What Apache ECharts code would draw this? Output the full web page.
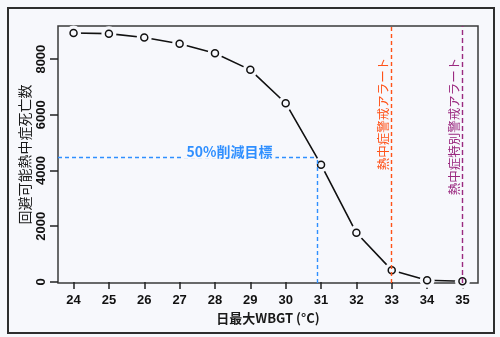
<!DOCTYPE html>
<html>
<head>
<meta charset="utf-8">
<script src="https://cdn.jsdelivr.net/npm/echarts@6/dist/echarts.min.js"></script>
<style>
  html, body { margin: 0; padding: 0; background: #f7f8fc; }
  #chart { width: 500px; height: 337px; }
</style>
</head>
<body>
<div id="chart"></div>
<script>
// Daily maximum WBGT (°C) and avoidable heat-stroke deaths
const wbgt = [24, 25, 26, 27, 28, 29, 30, 31, 32, 33, 34, 35];
const deaths = [8940, 8915, 8775, 8550, 8210, 7615, 6417, 4209, 1763, 421, 61, 25];
const xTicks = [24, 25, 26, 27, 28, 29, 30, 31, 32, 33, 34, 35];
const yTicks = [0, 2000, 4000, 6000, 8000];

// 50% reduction target and the WBGT where it is reached
const targetDeaths = 4470;
const targetWbgt = 30.89;
const targetLabelX = 28.41;

// Alert thresholds
const alertWbgt = 33;
const specialAlertWbgt = 35;
const alertLabelY = 8050;

const bg = '#f7f8fc';
const blue = '#2f8fff';
const orange = '#ff5218';
const purple = '#9b2a80';
const cjk = '"Noto Sans CJK JP", "Liberation Sans", sans-serif';
const num = '"Liberation Sans", Arial, sans-serif';

const pts = wbgt.map((x, i) => [x, deaths[i]]);

const chart = echarts.init(document.getElementById('chart'), null, { renderer: 'canvas' });

function dashed(color, dash) {
  return { color: color, type: dash, width: 1.4, opacity: 1 };
}

chart.setOption({
  backgroundColor: bg,
  animation: false,
  grid: {
    left: 58, right: 22, top: 26, bottom: 54,
    show: true, borderColor: '#3a3a3a', borderWidth: 1.5, backgroundColor: bg
  },
  xAxis: {
    type: 'value',
    min: 23.56, max: 35.44,
    name: '日最大WBGT (°C)',
    nameLocation: 'middle',
    nameGap: 17,
    nameTextStyle: { fontFamily: cjk, fontSize: 13, fontWeight: 'bold', color: '#1a1a1a' },
    axisLine: { show: false },
    splitLine: { show: false },
    axisTick: {
      show: true, length: 7, customValues: xTicks,
      lineStyle: { color: '#222', width: 1.5 }
    },
    axisLabel: {
      customValues: xTicks, margin: 11,
      fontFamily: num, fontSize: 13, fontWeight: 'bold', color: '#111'
    }
  },
  yAxis: {
    type: 'value',
    min: -40, max: 9190,
    name: '回避可能熱中症死亡数',
    nameLocation: 'middle',
    nameRotate: 90,
    nameGap: 26,
    nameMoveOverlap: false,
    nameTextStyle: { fontFamily: cjk, fontSize: 14, color: '#1a1a1a' },
    axisLine: { show: false },
    splitLine: { show: false },
    axisTick: {
      show: true, length: 8, customValues: yTicks,
      lineStyle: { color: '#222', width: 1.5 }
    },
    axisLabel: {
      customValues: yTicks, rotate: 90, margin: 10,
      align: 'center', verticalAlign: 'bottom',
      formatter: v => String(v),
      fontFamily: num, fontSize: 13, fontWeight: 'bold', color: '#111'
    }
  },
  series: [
    {
      // connecting line
      type: 'line',
      data: pts,
      showSymbol: false,
      lineStyle: { color: '#111', width: 1.6 },
      z: 2
    },
    {
      // clear space around each point
      type: 'scatter',
      data: pts,
      symbol: 'circle',
      symbolSize: 15,
      itemStyle: { color: bg, opacity: 1 },
      z: 3,
      silent: true
    },
    {
      // open circle markers
      type: 'scatter',
      data: pts,
      symbol: 'circle',
      symbolSize: 7,
      itemStyle: { color: bg, borderColor: '#111', borderWidth: 1.5, opacity: 1 },
      z: 4
    },
    {
      // reference lines
      type: 'line',
      data: pts,
      showSymbol: false,
      lineStyle: { width: 0 },
      z: 6,
      markLine: {
        silent: true,
        symbol: 'none',
        label: { show: false },
        lineStyle: { opacity: 1 },
        data: [
          [
            { coord: [23.56, targetDeaths], lineStyle: dashed(blue, [4, 3]) },
            { coord: [targetWbgt, targetDeaths] }
          ],
          [
            { coord: [targetWbgt, -40], lineStyle: dashed(blue, [4, 3]) },
            { coord: [targetWbgt, targetDeaths] }
          ],
          { xAxis: alertWbgt, lineStyle: dashed(orange, [4, 3]) },
          { xAxis: specialAlertWbgt, lineStyle: dashed(purple, [5, 3]) }
        ]
      }
    }
  ]
});

// Text annotations, placed through the axes' own scales
const px = (x, y) => chart.convertToPixel({ gridIndex: 0 }, [x, y]);
const tLabel = px(targetLabelX, targetDeaths);
const aLabel = px(alertWbgt, alertLabelY);
const sLabel = px(specialAlertWbgt, alertLabelY);

chart.setOption({
  graphic: [
    {
      type: 'rect',
      shape: { x: 8, y: 8, width: 486, height: 325 },
      style: { fill: 'none', stroke: '#2e2e2e', lineWidth: 2 },
      z: -1
    },
    {
      type: 'text',
      x: tLabel[0], y: tLabel[1] + 1,
      z: 10,
      style: {
        text: '50%削減目標',
        align: 'center', verticalAlign: 'bottom',
        fill: blue, font: 'bold 14px ' + cjk,
        backgroundColor: bg, padding: [0, 3, 0, 3]
      }
    },
    {
      type: 'text',
      x: aLabel[0] - 2, y: aLabel[1],
      rotation: Math.PI / 2,
      z: 10,
      style: {
        text: '熱中症警戒アラート',
        align: 'right', verticalAlign: 'bottom',
        fill: orange, font: '12.5px ' + cjk
      }
    },
    {
      type: 'text',
      x: sLabel[0] - 2, y: sLabel[1],
      rotation: Math.PI / 2,
      z: 10,
      style: {
        text: '熱中症特別警戒アラート',
        align: 'right', verticalAlign: 'bottom',
        fill: purple, font: '12.5px ' + cjk
      }
    }
  ]
});
</script>
</body>
</html>
